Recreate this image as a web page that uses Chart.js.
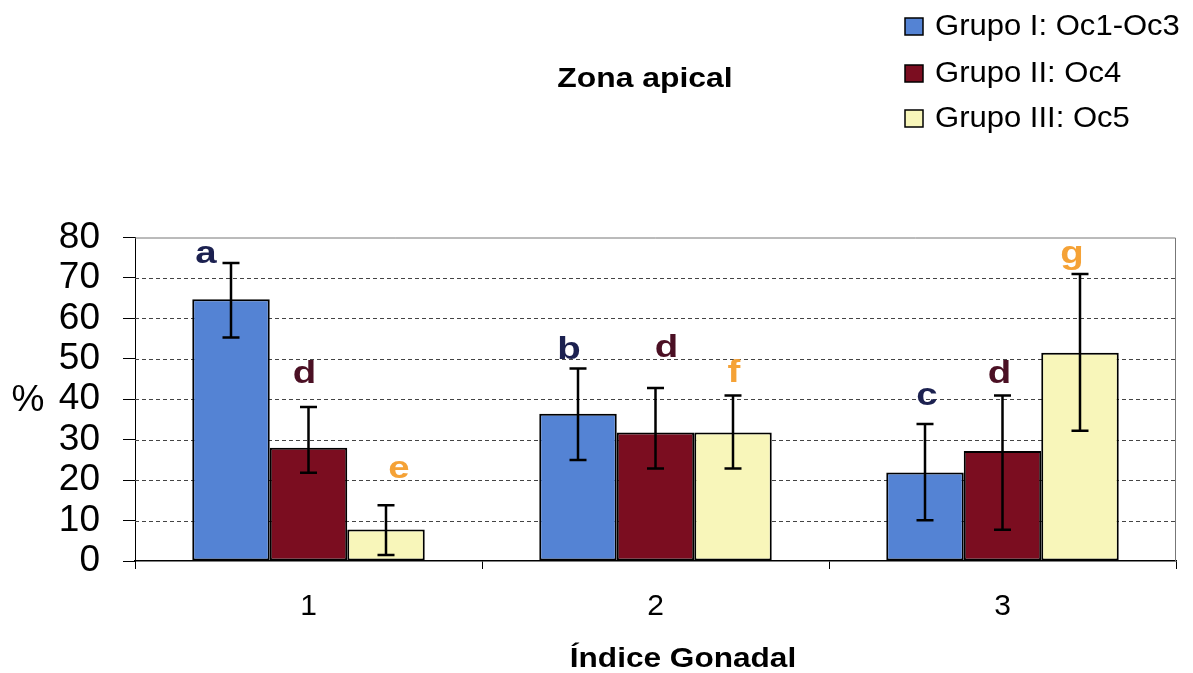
<!DOCTYPE html>
<html><head><meta charset="utf-8">
<script src="https://cdn.jsdelivr.net/npm/chart.js@4"></script>
<style>html,body{margin:0;padding:0;background:#fff;overflow:hidden}#wrap{width:1193px;height:673px;position:relative}</style>
</head><body><div id="wrap"><canvas id="c"></canvas></div>
<script>
// ---- data ----
const categories = ['1', '2', '3'];
const seriesNames = ['Grupo I: Oc1-Oc3', 'Grupo II: Oc4', 'Grupo III: Oc5'];
const grupoI = [64.7, 36.4, 21.9];
const grupoII = [28.0, 31.8, 27.2];
const grupoIII = [7.8, 31.8, 51.5];
// error bar bounds (upper / lower)
const grupoIHigh = [73.7, 47.6, 33.9];
const grupoILow = [55.3, 25.0, 10.1];
const grupoIIHigh = [38.1, 42.8, 40.9];
const grupoIILow = [21.8, 22.9, 7.7];
const grupoIIIHigh = [13.8, 40.9, 71.0];
const grupoIIILow = [1.5, 22.9, 32.2];
// significance letters and the value at which their baseline sits
const lettersI = ['a', 'b', 'c'];
const lettersII = ['d', 'd', 'd'];
const lettersIII = ['e', 'f', 'g'];
const letterYI = [73.7, 49.9, 38.6];
const letterYII = [44.0, 50.4, 44.0];
const letterYIII = [20.5, 44.3, 73.7];
const yTicks = [0, 10, 20, 30, 40, 50, 60, 70, 80];
const chartTitle = 'Zona apical';
const xTitle = 'Índice Gonadal';
const yTitle = '%';

// ---- styles ----
const FONT = "'Liberation Sans', Arial, sans-serif";
const colors = ['#5483d4', '#7b0d20', '#f8f6ba'];
const letterColors = ['#1c2150', '#4b1024', '#f5a236'];
const letterDx = [[-25, -9, 2], [-4, 11, -3], [13, 1, -8]];

const highs = [grupoIHigh, grupoIIHigh, grupoIIIHigh];
const lows = [grupoILow, grupoIILow, grupoIIILow];
const letters = [lettersI, lettersII, lettersIII];
const letterYs = [letterYI, letterYII, letterYIII];

function drawStretched(ctx, text, x, y, font, sx, align) {
  ctx.save();
  ctx.font = font;
  ctx.textBaseline = 'alphabetic';
  ctx.textAlign = align || 'center';
  ctx.translate(x, y);
  ctx.scale(sx, 1);
  ctx.fillText(text, 0, 0);
  ctx.restore();
}

const decor = {
  id: 'decor',
  beforeDatasetsDraw(chart) {
    const {ctx, chartArea: a, scales: {y}} = chart;
    ctx.save();
    ctx.strokeStyle = '#444';
    ctx.lineWidth = 1;
    ctx.setLineDash([4, 3]);
    yTicks.forEach(v => {
      if (v === y.min || v === y.max) return;
      const py = Math.round(y.getPixelForValue(v)) + 0.5;
      ctx.beginPath(); ctx.moveTo(a.left, py); ctx.lineTo(a.right, py); ctx.stroke();
    });
    ctx.setLineDash([]);
    ctx.strokeStyle = '#777';
    ctx.beginPath();
    ctx.moveTo(a.left, a.top + 0.5); ctx.lineTo(a.right - 0.5, a.top + 0.5); ctx.lineTo(a.right - 0.5, a.bottom);
    ctx.stroke();
    ctx.restore();
  },
  afterDatasetsDraw(chart) {
    const {ctx, scales: {y}} = chart;
    ctx.save();
    chart.data.datasets.forEach((ds, si) => {
      const meta = chart.getDatasetMeta(si);
      meta.data.forEach((bar, i) => {
        const x = bar.x;
        const yh = y.getPixelForValue(highs[si][i]);
        const yl = y.getPixelForValue(lows[si][i]);
        ctx.strokeStyle = '#000';
        ctx.lineWidth = 2.5;
        ctx.beginPath();
        ctx.moveTo(x, yh); ctx.lineTo(x, yl);
        ctx.moveTo(x - 8.5, yh); ctx.lineTo(x + 8.5, yh);
        ctx.moveTo(x - 8.5, yl); ctx.lineTo(x + 8.5, yl);
        ctx.stroke();
        ctx.fillStyle = letterColors[si];
        drawStretched(ctx, letters[si][i], x + letterDx[si][i], y.getPixelForValue(letterYs[si][i]),
          'bold 32px ' + FONT, 1.2, 'center');
      });
    });
    ctx.restore();
  },
  afterDraw(chart) {
    const {ctx} = chart;
    ctx.save();
    ctx.fillStyle = '#000';
    drawStretched(ctx, chartTitle, 645, 87, 'bold 27px ' + FONT, 1.18, 'center');
    drawStretched(ctx, xTitle, 683, 667, 'bold 27px ' + FONT, 1.17, 'center');
    drawStretched(ctx, yTitle, 28, 411, '37px ' + FONT, 1.0, 'center');
    // legend
    const rows = [34.5, 81.5, 126.5];
    chart.data.datasets.forEach((ds, i) => {
      const by = rows[i];
      ctx.fillStyle = ds.backgroundColor;
      ctx.fillRect(905, by - 16.5, 18, 17);
      ctx.strokeStyle = '#000';
      ctx.lineWidth = 1.5;
      ctx.strokeRect(905, by - 16.5, 18, 17);
      ctx.fillStyle = '#000';
      drawStretched(ctx, ds.label, 935, by, '29px ' + FONT, 1.07, 'left');
    });
    ctx.restore();
  }
};

new Chart(document.getElementById('c'), {
  type: 'bar',
  data: {
    labels: categories,
    datasets: [grupoI, grupoII, grupoIII].map((d, i) => ({
      label: seriesNames[i],
      data: d,
      backgroundColor: colors[i],
      borderColor: '#000',
      borderWidth: 2,
      borderSkipped: false,
      categoryPercentage: 0.67,
      barPercentage: 1.0
    }))
  },
  options: {
    responsive: true,
    maintainAspectRatio: false,
    animation: false,
    layout: {padding: {left: 0, top: 237.5, right: 17, bottom: 0}},
    plugins: {legend: {display: false}, tooltip: {enabled: false}, title: {display: false}},
    scales: {
      x: {
        grid: {offset: true, drawOnChartArea: false, drawTicks: true, tickLength: 8, color: '#000', lineWidth: 1},
        border: {display: true, color: '#000', width: 1.5},
        ticks: {font: {size: 30, family: FONT}, color: '#000', padding: 20},
        afterFit(s) { s.height = 112; }
      },
      y: {
        min: 0, max: 80,
        afterBuildTicks(s) { s.ticks = yTicks.map(v => ({value: v})); },
        ticks: {font: {size: 37, family: FONT}, color: '#000', padding: 23, autoSkip: false},
        grid: {drawOnChartArea: false, drawTicks: true, tickLength: 12, color: '#000', lineWidth: 1},
        border: {display: true, color: '#000', width: 1},
        afterFit(s) { s.width = 135; }
      }
    }
  },
  plugins: [decor]
});
</script></body></html>
